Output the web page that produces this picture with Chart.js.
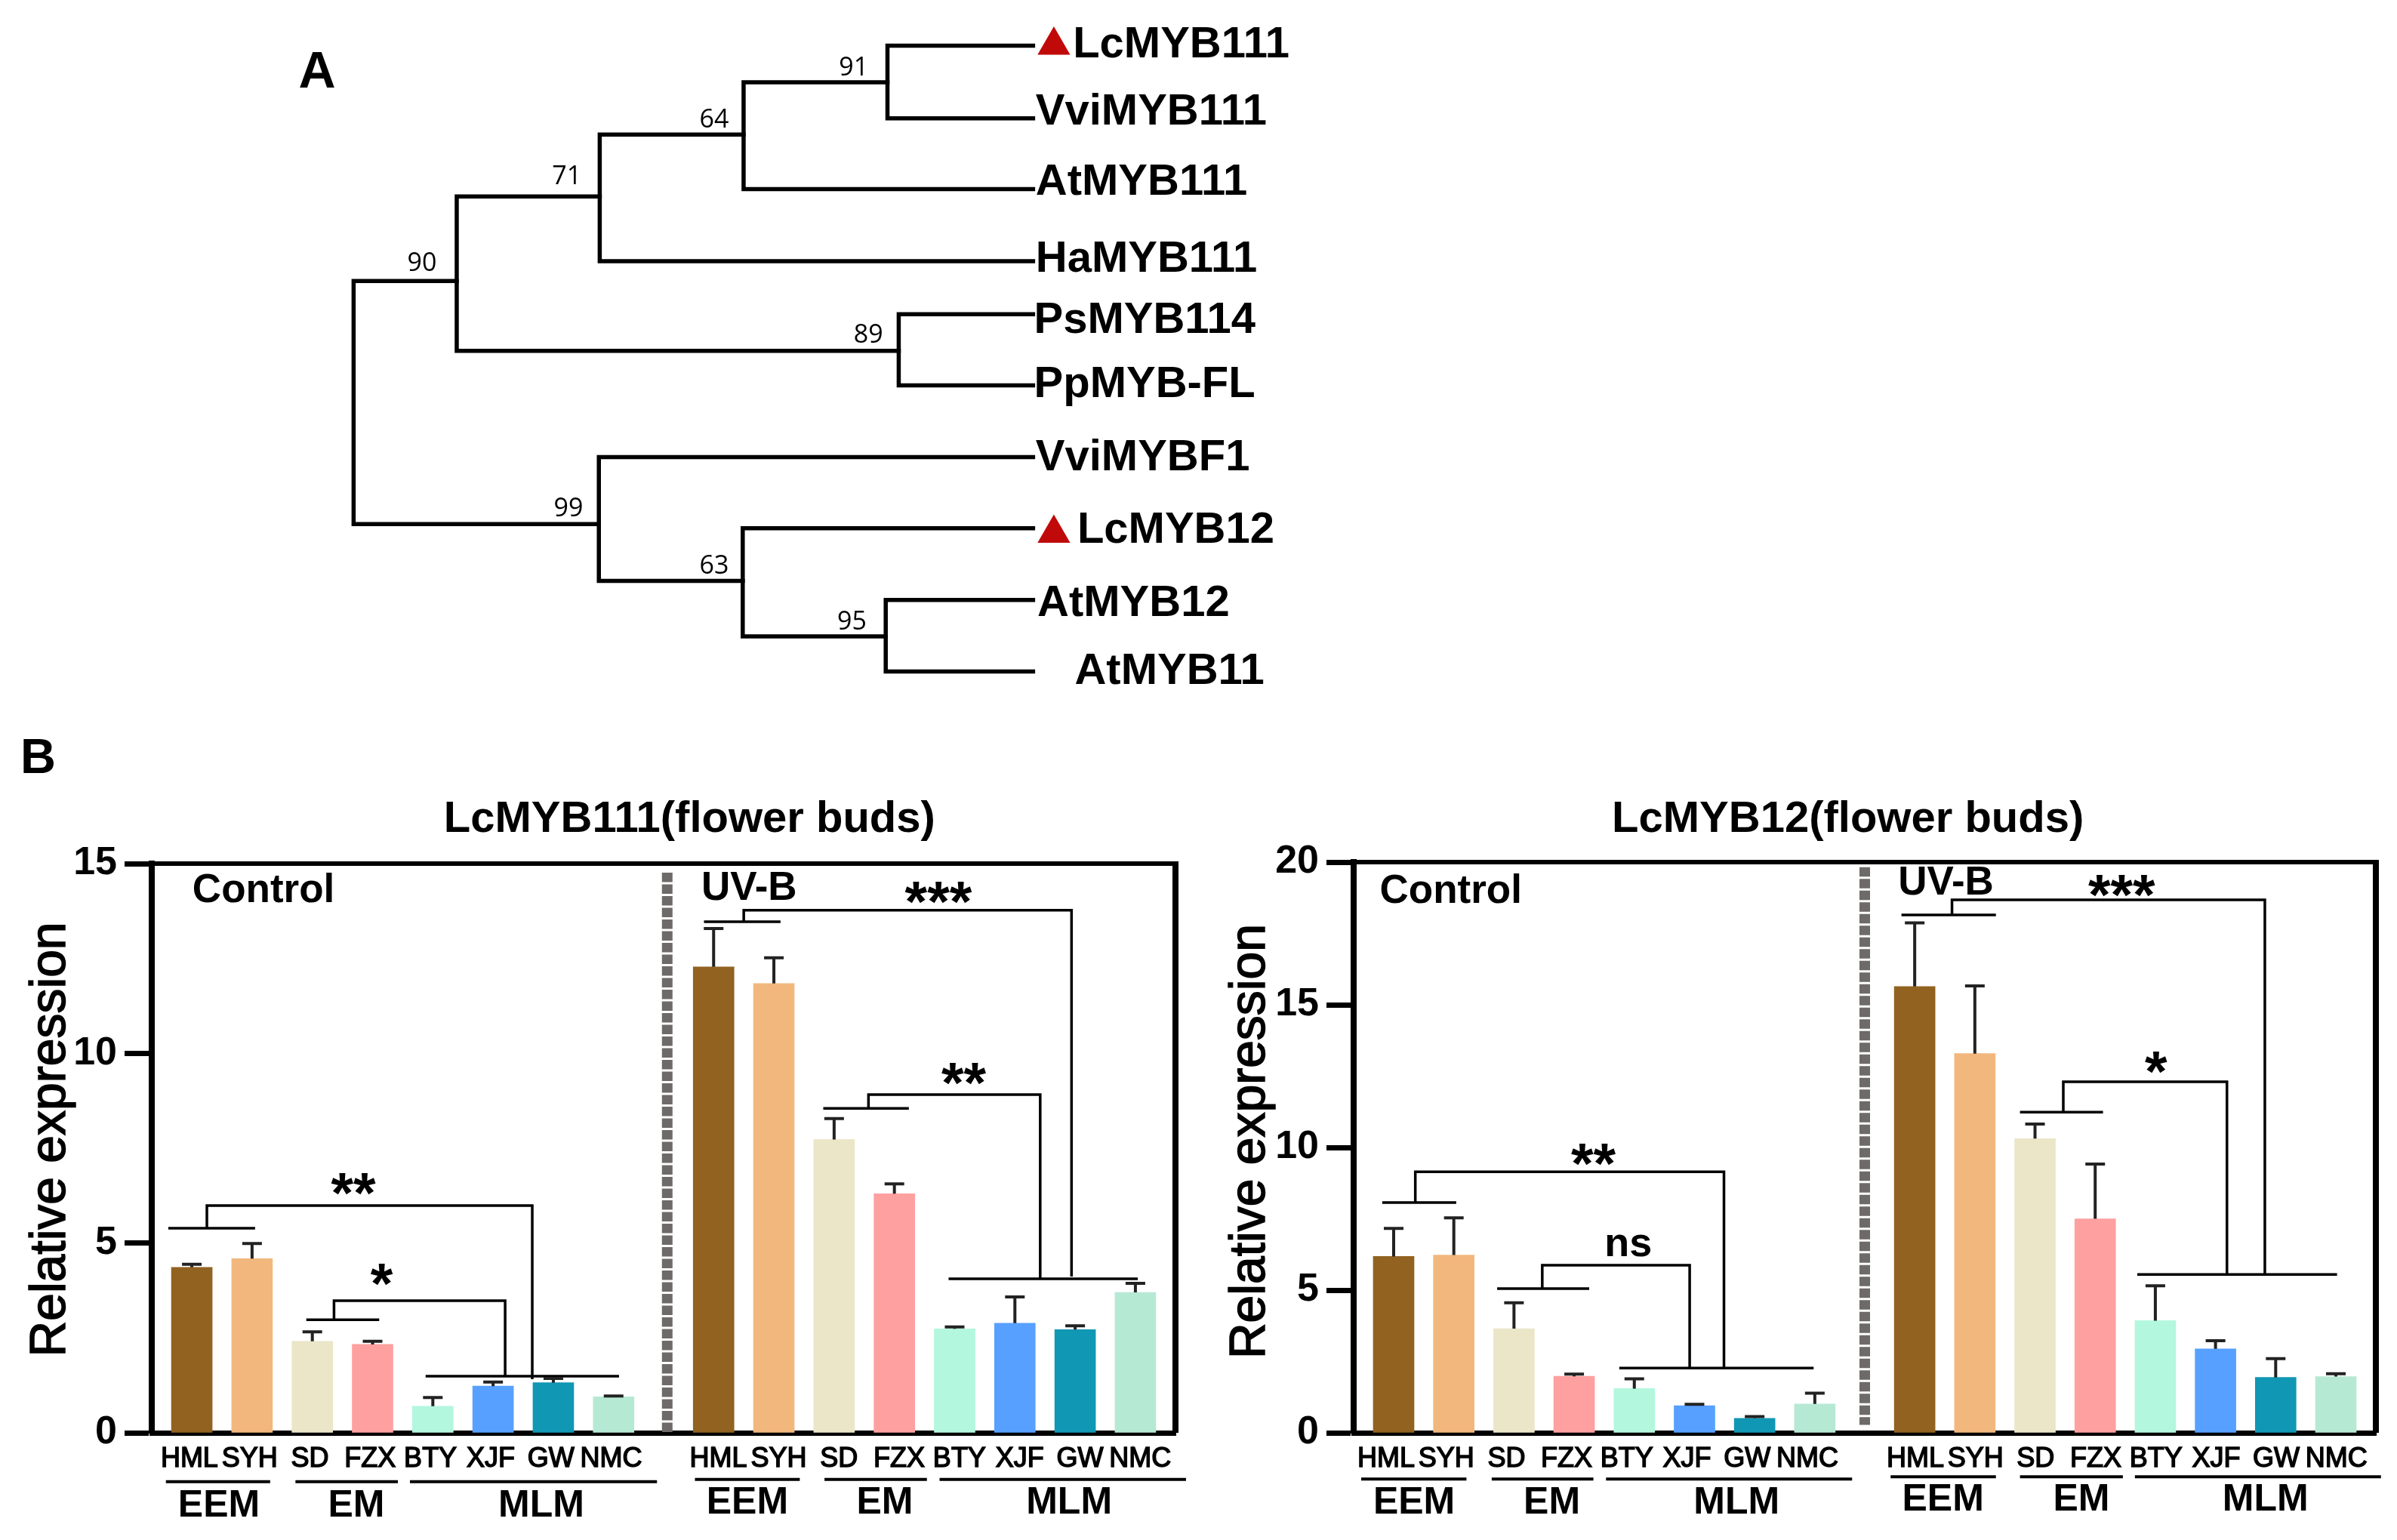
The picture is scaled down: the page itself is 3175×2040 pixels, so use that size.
<!DOCTYPE html>
<html><head><meta charset="utf-8">
<script src="https://cdn.jsdelivr.net/npm/chart.js@4"></script>
<style>html,body{margin:0;padding:0;background:#fff;width:3175px;height:2040px;overflow:hidden}canvas{position:absolute;display:block}</style>
</head><body>
<canvas id="tree" style="left:0;top:0"></canvas>
<canvas id="barsA" style="left:0;top:960px"></canvas>
<canvas id="barsB" style="left:1600px;top:960px"></canvas>
<script>
// ---- Panel A: tree, in tree units ----
const leafNames = ['LcMYB111','VviMYB111','AtMYB111','HaMYB111','PsMYB114','PpMYB-FL','VviMYBF1','LcMYB12','AtMYB12','AtMYB11'];
const leafTextX = [1238,1195,1195,1195,1193,1193,1195,1243,1197,1240];
const leafTextY = [98,244,396,562,694,833,991,1148,1306,1453];
const treePaths = [
 [[1192,99],[1024,99],[1024,256],[1192,256]],
 [[1024,178],[858,178],[858,409],[1192,409]],
 [[858,291],[692,291],[692,565],[1192,565]],
 [[692,425],[527,425],[527,759],[1037,759]],
 [[1192,680],[1037,680],[1037,834],[1192,834]],
 [[527,608],[408,608],[408,1134],[691,1134]],
 [[1192,989],[691,989],[691,1257],[857,1257]],
 [[1192,1143],[857,1143],[857,1377],[1022,1377]],
 [[1192,1298],[1022,1298],[1022,1453],[1192,1453]]
];
const supportValues = ['91','64','71','90','89','99','63','95'];
const supportX = [985,824,654,487,1002,656,824,983];
const supportY = [148,260,383,571,726,1102,1226,1347];
const markerPoints = [[1216,98],[1216,1154]];

// ---- Panel B: bars ----
const categories = ['HML','SYH','SD','FZX','BTY','XJF','GW','NMC','HML','SYH','SD','FZX','BTY','XJF','GW','NMC'];
const barColors = ['#916220','#f2b77d','#ebe6c8','#ffa0a0','#b3f7de','#57a0ff','#1097b4','#b6e9d3'];
const valuesA = [4.36,4.59,2.41,2.33,0.70,1.23,1.32,0.95,12.28,11.84,7.73,6.30,2.74,2.89,2.72,3.70];
const errTopA = [4.44,4.99,2.66,2.41,0.93,1.34,1.43,0.97,13.29,12.52,8.28,6.56,2.79,3.58,2.82,3.94];
const valuesB = [6.18,6.23,3.65,1.98,1.55,0.95,0.51,1.01,15.64,13.29,10.31,7.50,3.93,2.94,1.94,1.97];
const errTopB = [7.16,7.53,4.56,2.06,1.89,1.00,0.57,1.39,17.87,15.66,10.82,9.42,5.15,3.23,2.60,2.07];
const yTicksA = [0,5,10,15];
const yTicksB = [0,5,10,15,20];
const bracketsA = [
 [[-0.39,5.39],[1.05,5.39]], [[0.25,5.39],[0.25,5.99],[5.65,5.99],[5.65,1.41]],
 [[1.90,2.98],[3.11,2.98]], [[2.36,2.98],[2.36,3.48],[5.20,3.48],[5.20,1.49]],
 [[3.88,1.49],[7.09,1.49]],
 [[8.50,13.47],[9.77,13.47]], [[9.16,13.47],[9.16,13.77],[14.60,13.77],[14.60,4.12]],
 [[10.48,8.55],[11.90,8.55]], [[11.23,8.55],[11.23,8.91],[14.08,8.91],[14.08,4.06]],
 [[12.56,4.06],[15.70,4.06]]
];
const bracketsB = [
 [[-0.19,8.07],[1.04,8.07]], [[0.36,8.07],[0.36,9.15],[5.49,9.15],[5.49,2.27]],
 [[1.72,5.05],[3.25,5.05]], [[2.47,5.05],[2.47,5.87],[4.92,5.87],[4.92,2.27]],
 [[3.75,2.27],[6.98,2.27]],
 [[8.44,18.15],[10.01,18.15]], [[9.28,18.15],[9.28,18.68],[14.48,18.68],[14.48,5.55]],
 [[10.41,11.24],[11.79,11.24]], [[11.13,11.24],[11.13,12.3],[13.85,12.3],[13.85,5.55]],
 [[12.36,5.55],[15.68,5.55]]
];
const underlinesA = [
 [[-0.43,-1.29],[1.30,-1.29]], [[1.72,-1.29],[3.42,-1.29]], [[3.62,-1.29],[7.72,-1.29]],
 [[8.35,-1.23],[10.09,-1.23]], [[10.5,-1.23],[12.2,-1.23]], [[12.41,-1.23],[16.5,-1.23]]
];
const underlinesB = [
 [[-0.54,-1.62],[1.21,-1.62]], [[1.63,-1.62],[3.32,-1.62]], [[3.53,-1.62],[7.62,-1.62]],
 [[8.26,-1.54],[10.01,-1.54]], [[10.41,-1.54],[12.12,-1.54]], [[12.32,-1.54],[16.41,-1.54]]
];
const separatorA = [[7.89,14.76],[7.89,0]];
const separatorB = [[7.83,19.82],[7.83,0.28]];
const F_TITLE='bold 58px "Liberation Sans"', F_COND='bold 53px "Liberation Sans"', F_GROUP='bold 50px "Liberation Sans"', F_STAR='bold 76px "Liberation Sans"', F_YT='66px "Liberation Sans"';
const labelsA = [
 ['LcMYB111(flower buds)',8.26,16.15,F_TITLE],['Control',1.19,14.28,F_COND],['UV-B',9.25,14.34,F_COND],
 ['**',2.68,6.52,F_STAR,1],['*',3.15,4.14,F_STAR,1],['***',12.39,14.2,F_STAR,1],['**',12.81,9.43,F_STAR,1],
 ['EEM',0.45,-1.93,F_GROUP],['EM',2.73,-1.93,F_GROUP],['MLM',5.80,-1.93,F_GROUP],
 ['EEM',9.22,-1.85,F_GROUP],['EM',11.5,-1.85,F_GROUP],['MLM',14.56,-1.85,F_GROUP],
 ['B',-2.55,17.75,'bold 65px "Liberation Sans"'],
 ['Relative expression',-2.34,7.73,F_YT,2]
];
const labelsB = [
 ['LcMYB12(flower buds)',7.55,21.48,F_TITLE],['Control',0.95,18.95,F_COND],['UV-B',9.18,19.25,F_COND],
 ['**',3.32,9.71,F_STAR,1],['ns',3.90,6.58,'bold 54px "Liberation Sans"'],['***',12.1,19.13,F_STAR,1],['*',12.67,12.94,F_STAR,1],
 ['EEM',0.34,-2.46,F_GROUP],['EM',2.63,-2.46,F_GROUP],['MLM',5.70,-2.46,F_GROUP],
 ['EEM',9.13,-2.36,F_GROUP],['EM',11.43,-2.36,F_GROUP],['MLM',14.49,-2.36,F_GROUP],
 ['Relative expression',-2.37,10.21,F_YT,2]
];
const GAP = 0.66, XMIN = -0.665, XMAX = 16.325;
const barX = i => i < 8 ? i : i + GAP;
const toPts = p => p.map(([x,y]) => ({x,y}));

const textPlugin = {
  id:'textLabels',
  afterDatasetsDraw(chart, args, opts){
    const {ctx, scales:{x,y}} = chart;
    ctx.save(); ctx.fillStyle='#000'; ctx.textAlign='center'; ctx.textBaseline='middle';
    (opts.items||[]).forEach(([t,vx,vy,f,kind])=>{
      ctx.font=f; ctx.textAlign='center';
      const size=parseFloat(f.match(/(\d+)px/)[1]);
      const px=x.getPixelForValue(vx), py=y.getPixelForValue(vy);
      if(kind===2){
        ctx.save(); ctx.translate(px,py); ctx.rotate(-Math.PI/2);
        ctx.strokeStyle='#000'; ctx.lineWidth=1.5; ctx.strokeText(t,0,0); ctx.fillText(t,0,0); ctx.restore();
      } else ctx.fillText(t,px,py+(kind===1?size*0.2:0));
    });
    ctx.restore();
  }
};
const errorPlugin = {
  id:'errorBars',
  afterDatasetsDraw(chart, args, opts){
    const {ctx, scales:{x,y}} = chart;
    ctx.save(); ctx.strokeStyle='#222'; ctx.lineWidth=4;
    opts.values.forEach((v,i)=>{
      const px=x.getPixelForValue(barX(i)), a=y.getPixelForValue(v), b=y.getPixelForValue(opts.tops[i]);
      ctx.beginPath(); ctx.moveTo(px,a); ctx.lineTo(px,b); ctx.moveTo(px-13,b); ctx.lineTo(px+13,b); ctx.stroke();
    });
    ctx.restore();
  }
};
const framePlugin = {
  id:'frame',
  afterDatasetsDraw(chart){
    const {ctx, chartArea:c} = chart;
    ctx.save(); ctx.strokeStyle='#000';
    ctx.lineWidth=6; ctx.beginPath(); ctx.moveTo(c.left-36,c.top); ctx.lineTo(c.right+4,c.top); ctx.stroke();
    ctx.lineWidth=8; ctx.beginPath(); ctx.moveTo(c.right,c.top); ctx.lineTo(c.right,c.bottom); ctx.stroke();
    ctx.restore();
  }
};

function barChart(id,w,h,padR,padT,axisW,axisH,ymax,yTicks,values,tops,brackets,underlines,sep,labels,offC,offU){
  const el=document.getElementById(id); el.width=w; el.height=h;
  const lineDs=(pts,bw)=>({type:'line',data:toPts(pts),borderColor:'#000',borderWidth:bw,pointRadius:0,fill:false,tension:0,clip:false,order:1,borderCapStyle:'butt',borderJoinStyle:'miter'});
  return new Chart(el,{
    type:'bar',
    data:{datasets:[
      {type:'bar',data:values.map((v,i)=>({x:barX(i),y:v})),backgroundColor:values.map((v,i)=>barColors[i%8]),barThickness:54,borderWidth:0,order:3},
      {type:'line',data:toPts(sep),borderColor:'#6e6a6a',borderWidth:14,borderDash:[12.5,3],pointRadius:0,fill:false,clip:false,order:2},
      ...brackets.map(b=>lineDs(b,3.5)),
      ...underlines.map(b=>lineDs(b,4))
    ]},
    plugins:[textPlugin,errorPlugin,framePlugin],
    options:{
      responsive:false,animation:false,devicePixelRatio:1,
      layout:{padding:{left:0,right:padR,top:padT,bottom:0},autoPadding:false},
      plugins:{legend:{display:false},tooltip:{enabled:false},title:{display:false},
        textLabels:{items:labels},errorBars:{values,tops}},
      scales:{
        x:{type:'linear',offset:false,min:XMIN,max:XMAX,
          afterFit(s){s.height=axisH;},
          afterBuildTicks(s){s.ticks=categories.map((c,i)=>({value:barX(i)+(i<8?offC:offU)}));},
          grid:{display:false,offset:false},border:{display:true,color:'#000',width:7},
          ticks:{autoSkip:false,maxRotation:0,minRotation:0,padding:5,color:'#000',
            font:{family:'"Liberation Sans"',size:36},textStrokeColor:'#000',textStrokeWidth:1.5,
            callback:(v,i)=>categories[i]}},
        y:{type:'linear',min:0,max:ymax,
          afterFit(s){s.width=axisW;},
          afterBuildTicks(s){s.ticks=yTicks.map(v=>({value:v}));},
          grid:{drawOnChartArea:false,drawTicks:true,tickLength:36,tickWidth:7,tickColor:'#000'},
          border:{display:true,color:'#000',width:8},
          ticks:{padding:10,color:'#000',font:{family:'"Liberation Sans"',size:52,weight:'bold'},callback:v=>String(v)}}
      }
    }
  });
}

// Tree chart
(function(){
  const el=document.getElementById('tree'); el.width=1800; el.height=960;
  const texts=[
    ...leafNames.map((n,i)=>[n,leafTextX[i],leafTextY[i],'bold 58px "Liberation Sans"','left']),
    ...supportValues.map((n,i)=>[n,supportX[i],supportY[i],'34px "Open Sans"','center']),
    ['A',366,159,'bold 68px "Liberation Sans"','center']
  ];
  const tPlugin={id:'treeText',afterDatasetsDraw(chart){
    const {ctx,scales:{x,y}}=chart; ctx.save(); ctx.fillStyle='#000'; ctx.textBaseline='middle';
    texts.forEach(([t,vx,vy,f,al])=>{ctx.font=f;ctx.textAlign=al;ctx.fillText(t,x.getPixelForValue(vx),y.getPixelForValue(vy));});
    ctx.restore();
  }};
  new Chart(el,{
    type:'scatter',
    data:{datasets:[
      ...treePaths.map(p=>({type:'line',data:toPts(p),borderColor:'#000',borderWidth:5.5,pointRadius:0,fill:false,tension:0,clip:false,borderCapStyle:'square',borderJoinStyle:'miter'})),
      {type:'scatter',data:toPts(markerPoints),pointStyle:'triangle',pointRadius:25,pointBackgroundColor:'#c00a0a',pointBorderWidth:0,showLine:false}
    ]},
    plugins:[tPlugin],
    options:{responsive:false,animation:false,devicePixelRatio:1,layout:{padding:0,autoPadding:false},
      plugins:{legend:{display:false},tooltip:{enabled:false}},
      scales:{x:{type:'linear',display:false,min:0,max:1568},y:{type:'linear',display:false,min:0,max:1568,reverse:true}}}
  });
})();

barChart('barsA',1600,1080,43,184,201,142,15,yTicksA,valuesA,errTopA,bracketsA,underlinesA,separatorA,labelsA,-0.04,0.08);
barChart('barsB',1575,1080,28,182,193,142,20,yTicksB,valuesB,errTopB,bracketsB,underlinesB,separatorB,labelsB,-0.125,0.01);
</script>
</body></html>
